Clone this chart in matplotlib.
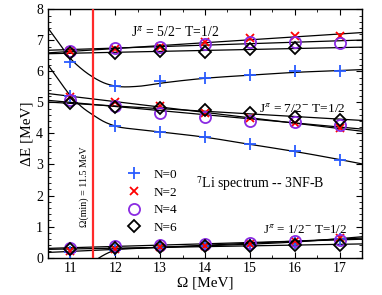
import numpy as np
import matplotlib
matplotlib.use("Agg")
import matplotlib.pyplot as plt
from matplotlib.ticker import MultipleLocator

plt.rcParams['font.family'] = ['Liberation Serif', 'DejaVu Serif']
plt.rcParams['mathtext.fontset'] = 'stix'

omega = [11, 12, 13, 14, 15, 16, 17]
omega6_52 = [11, 12, 13, 14, 15, 16]

# J=5/2- state
e52_n0 = [6.30, 5.52, 5.68, 5.80, 5.88, 6.00, 6.03]
e52_n2 = [6.66, 6.72, 6.78, 6.96, 7.07, 7.15, 7.15]
e52_n4 = [6.67, 6.75, 6.80, 6.89, 6.96, 6.94, 6.93]
e52_n6 = [6.61, 6.59, 6.67, 6.64, 6.72, 6.75]

# J=7/2- state
e72_n0 = [5.22, 4.23, 4.06, 3.90, 3.65, 3.42, 3.16]
e72_n2 = [5.19, 5.03, 4.89, 4.66, 4.49, 4.33, 4.17]
e72_n4 = [5.08, 4.89, 4.67, 4.54, 4.41, 4.38, 4.27]
e72_n6 = [4.97, 4.85, 4.81, 4.76, 4.65, 4.54, 4.44]

# J=1/2- state
e12_n0 = [0.18, 0.25, 0.32, 0.38, 0.42, 0.48, 0.60]
e12_n2 = [0.20, 0.28, 0.33, 0.38, 0.44, 0.52, 0.62]
e12_n4 = [0.30, 0.36, 0.42, 0.45, 0.48, 0.53, 0.56]
e12_n6 = [0.27, 0.30, 0.33, 0.36, 0.38, 0.40, 0.42]

# N=0 fit curves (knots)
fit52_n0_x = [10.5, 10.75, 11.0, 11.25, 11.5, 11.75, 12.0, 12.5, 13.0, 14.0, 15.0, 16.0, 17.0, 17.5]
fit52_n0_y = [7.40, 6.90, 6.42, 6.08, 5.82, 5.63, 5.53, 5.52, 5.62, 5.78, 5.88, 5.97, 6.03, 6.06]
fit72_n0_x = [10.5, 10.75, 11.0, 11.25, 11.5, 11.75, 12.0, 12.5, 13.0, 14.0, 15.0, 16.0, 17.0, 17.5]
fit72_n0_y = [6.21, 5.70, 5.22, 4.86, 4.60, 4.38, 4.24, 4.13, 4.05, 3.88, 3.65, 3.42, 3.16, 3.02]
fit12_n0_x = [11.3, 11.65, 12.0, 12.5, 13.0, 14.0, 15.0, 16.0, 17.0, 17.5]
fit12_n0_y = [-0.40, 0.00, 0.24, 0.30, 0.33, 0.38, 0.43, 0.50, 0.61, 0.67]

labels = ['N=0', 'N=2', 'N=4', 'N=6']


def smooth(xk, yk, n=25):
    xk = np.asarray(xk, float)
    yk = np.asarray(yk, float)
    m = np.gradient(yk, xk)
    xs, ys = [], []
    for i in range(len(xk) - 1):
        h = xk[i + 1] - xk[i]
        t = np.linspace(0, 1, n)
        h00 = 2 * t**3 - 3 * t**2 + 1
        h10 = t**3 - 2 * t**2 + t
        h01 = -2 * t**3 + 3 * t**2
        h11 = t**3 - t**2
        xs.append(xk[i] + t * h)
        ys.append(h00 * yk[i] + h10 * h * m[i] + h01 * yk[i + 1] + h11 * h * m[i + 1])
    return np.concatenate(xs), np.concatenate(ys)


fig = plt.figure(figsize=(3.82, 2.95), dpi=100)
ax = fig.add_axes([0.1257, 0.127, 0.8219, 0.841])

xx = np.linspace(10.5, 17.5, 100)
lw = 0.9
# fit lines
for xk, yk in [(fit52_n0_x, fit52_n0_y), (fit72_n0_x, fit72_n0_y), (fit12_n0_x, fit12_n0_y)]:
    sx, sy = smooth(xk, yk)
    ax.plot(sx, sy, color='black', lw=lw, zorder=2)
for xs, ys in [(omega, e52_n2), (omega, e52_n4), (omega6_52, e52_n6),
               (omega, e72_n2), (omega, e72_n4), (omega, e72_n6),
               (omega, e12_n2), (omega, e12_n4), (omega, e12_n6)]:
    c = np.polyfit(xs, ys, 1)
    ax.plot(xx, np.polyval(c, xx), color='black', lw=lw, zorder=2)

ax.axvline(11.5, color='#ff2a2a', lw=1.6, zorder=3)

styles = [
    dict(marker='+', color='#2a5cff', ms=9, mew=1.3, ls='none'),
    dict(marker='x', color='#ff0000', ms=6, mew=1.3, ls='none'),
    dict(marker='o', mfc='none', mec='#8a2be2', ms=8, mew=1.3, ls='none'),
    dict(marker='D', mfc='none', mec='black', ms=6, mew=1.3, ls='none'),
]

series = [
    [(omega, e52_n0), (omega, e72_n0), (omega, e12_n0)],
    [(omega, e52_n2), (omega, e72_n2), (omega, e12_n2)],
    [(omega, e52_n4), (omega, e72_n4), (omega, e12_n4)],
    [(omega6_52, e52_n6), (omega, e72_n6), (omega, e12_n6)],
]
handles = []
for k, (st, ser) in enumerate(zip(styles, series)):
    for j, (xs, ys) in enumerate(ser):
        h, = ax.plot(xs, ys, zorder=4 + k, **st)
        if j == 0:
            handles.append(h)

ax.set_xlim(10.5, 17.5)
ax.set_ylim(0, 8)
ax.xaxis.set_major_locator(MultipleLocator(1))
ax.xaxis.set_minor_locator(MultipleLocator(0.5))
ax.yaxis.set_major_locator(MultipleLocator(1))
ax.yaxis.set_minor_locator(MultipleLocator(0.2))
ax.tick_params(which='both', direction='in', top=True, right=True, labelsize=10)
ax.tick_params(which='major', length=4, width=0.8)
ax.tick_params(which='minor', length=2, width=0.6)
for s in ax.spines.values():
    s.set_linewidth(1.0)

ax.set_xlabel('Ω [MeV]', fontsize=11, labelpad=1)
ax.set_ylabel('ΔE [MeV]', fontsize=11, labelpad=2)

ax.legend(handles, labels, loc='upper left', bbox_to_anchor=(0.235, 0.38),
          frameon=False, fontsize=9.5, handlelength=1.0, handletextpad=1.0,
          labelspacing=0.42, borderaxespad=0)

ax.text(12.35, 7.27, r'J$^{\pi}$ = 5/2$^{-}$ T=1/2', fontsize=9.8, va='center', ha='left')
ax.text(15.2, 4.82, r'J$^{\pi}$ = 7/2$^{-}$ T=1/2', fontsize=9.6, va='center', ha='left')
ax.text(13.8, 2.40, r'$^{7}$Li spectrum -- 3NF-B', fontsize=10, va='center', ha='left')
ax.text(15.3, 0.92, r'J$^{\pi}$ = 1/2$^{-}$ T=1/2', fontsize=9.4, va='center', ha='left')
ax.text(11.3, 2.3, 'Ω(min) = 11.5 MeV', fontsize=7.2, rotation=90, va='center', ha='center')

fig.savefig('out.png', dpi=100)
